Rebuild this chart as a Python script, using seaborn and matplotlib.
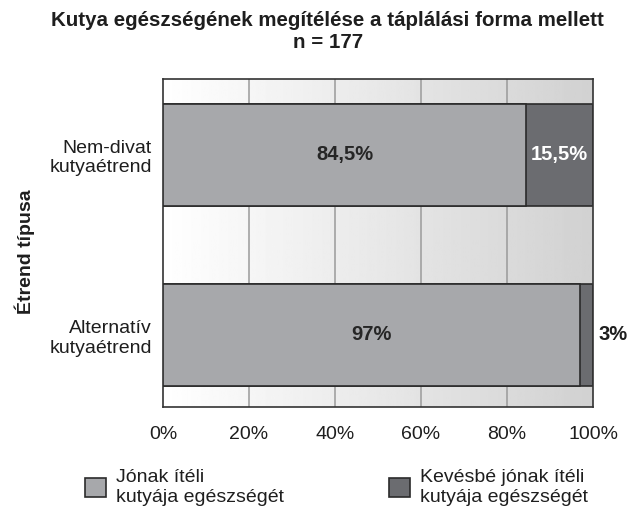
import numpy as np
import pandas as pd
import seaborn as sns
import matplotlib.pyplot as plt
from matplotlib.patches import Patch

# data
categories = ["Nem-divat\nkutyaétrend", "Alternatív\nkutyaétrend"]
good = [84.5, 97.0]
less_good = [15.5, 3.0]
good_labels = ["84,5%", "97%"]
less_labels = ["15,5%", "3%"]
series_names = ["Jónak ítéli\nkutyája egészségét", "Kevésbé jónak ítéli\nkutyája egészségét"]

df = pd.DataFrame({"cat": categories, "good": good, "less": less_good})
df["total"] = df["good"] + df["less"]

sns.set_style("white")
plt.rcParams["font.family"] = ["Liberation Sans", "DejaVu Sans"]

light = "#a7a8ab"
dark = "#6b6c70"
edge = "#2b2b2b"
txt = "#1e1e1e"
fs = 14

fig = plt.figure(figsize=(6.29, 5.08), dpi=100)
ax = fig.add_axes([163 / 629, 1 - 407 / 508, 430 / 629, 328 / 508])

ylim = (1.40, -0.42)
# gradient background
grad = np.linspace(1.0, 0.82, 256).reshape(1, -1)
ax.imshow(grad, cmap="gray", vmin=0, vmax=1, extent=[0, 100, ylim[0], ylim[1]],
          aspect="auto", zorder=0)
for x in [20, 40, 60, 80]:
    ax.axvline(x, color="#9a9a9a", lw=1.1, zorder=1)

sns.barplot(data=df, x="total", y="cat", order=categories, color=dark, width=0.567,
            edgecolor=edge, linewidth=1.2, saturation=1, orient="h", ax=ax, zorder=2)
sns.barplot(data=df, x="good", y="cat", order=categories, color=light, width=0.567,
            edgecolor=edge, linewidth=1.2, saturation=1, orient="h", ax=ax, zorder=3)

for i in range(len(categories)):
    ax.text(good[i] / 2, i, good_labels[i], ha="center", va="center",
            fontsize=14.5, fontweight="bold", color="#262626", zorder=5)
    if less_good[i] >= 10:
        ax.text(good[i] + less_good[i] / 2, i, less_labels[i], ha="center", va="center",
                fontsize=14.5, fontweight="bold", color="white", zorder=5)
    else:
        ax.text(101.2, i, less_labels[i], ha="left", va="center",
                fontsize=14.5, fontweight="bold", color=txt, zorder=5, clip_on=False)

ax.set_xlim(0, 100)
ax.set_ylim(*ylim)
ax.set_xticks([0, 20, 40, 60, 80, 100])
ax.set_xticklabels(["0%", "20%", "40%", "60%", "80%", "100%"])
ax.tick_params(axis="both", length=0, labelsize=fs, colors=txt)
ax.tick_params(axis="x", pad=14)
ax.tick_params(axis="y", pad=8)
ax.set_xlabel("")
ax.set_ylabel("")
for s in ax.spines.values():
    s.set_color("#333333")
    s.set_linewidth(1.2)

fig.text(25 / 629, 1 - 252 / 508, "Étrend típusa", rotation=90,
         ha="center", va="center", fontsize=fs, fontweight="bold", color=txt)

fig.text(0.521, 1 - 11 / 508, "Kutya egészségének megítélése a táplálási forma mellett\nn = 177",
         ha="center", va="top", fontsize=14.8, fontweight="bold", color=txt,
         linespacing=1.2)

lx = [85, 389]
cols = [light, dark]
for k in range(2):
    h = Patch(facecolor=cols[k], edgecolor=edge, lw=1.2)
    fig.legend([h], [series_names[k]], loc="upper left",
               bbox_to_anchor=(lx[k] / 629, 1 - 469 / 508), frameon=False,
               fontsize=fs, handlelength=1.1, handleheight=1.1, handletextpad=0.5,
               borderpad=0, borderaxespad=0, labelcolor=txt)

fig.savefig("out.png", dpi=100)
